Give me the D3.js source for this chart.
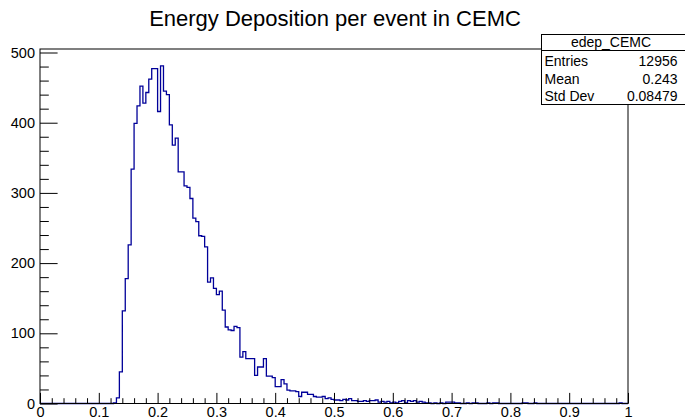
<!DOCTYPE html>
<html>
<head>
<meta charset="utf-8">
<script src="https://cdn.jsdelivr.net/npm/d3@7"></script>
<style>
  html, body { margin: 0; padding: 0; background: #ffffff; }
  svg { display: block; font-family: "Liberation Sans", Arial, Helvetica, sans-serif; }
</style>
</head>
<body>
<svg id="chart" width="685" height="420"></svg>
<script>
// ---- data ----
const title = "Energy Deposition per event in CEMC";
const histName = "edep_CEMC";
const binLow = 0, binHigh = 1, nBins = 200;
// bin contents (200 bins of width 0.005)
const counts = [
  0,0,0,0,0,0,0,0,0,0, 0,0,0,0,0,0,0,0,0,0,
  0,0,0,0,0,1,8,45,132,178,
  226,334,399,424,452,428,443,462,477,477,
  416,481,445,440,397,368,378,330,330,310,
  308,292,264,259,239,238,223,173,179,164,
  155,160,133,109,105,104,110,108,66,74,
  64,64,64,40,52,52,64,39,39,37,
  24,24,34,28,19,18,18,17,10,16,
  16,13,13,10,9,9,10,7,8,6,
  5,5,4,6,5,7,4,4,3,3,
  4,3,4,4,5,2,3,2,3,1,
  2,1,3,4,1,4,3,4,2,3,
  2,1,1,0,1,0,1,0,2,2,
  2,1,1,0,0,1,0,1,1,0,
  0,0,1,0,1,1,0,0,0,0,
  0,0,0,0,1,1,0,0,1,0,
  0,0,0,0,0,0,0,0,0,0,
  0,0,0,0,0,0,0,0,0,0,
  0,0,0,0,0,0,0,1,0,0
];
const statLabels = ["Entries", "Mean", "Std Dev"];
const statValues = ["12956", "0.243", "0.08479"];
const xTicks = [0,0.1,0.2,0.3,0.4,0.5,0.6,0.7,0.8,0.9,1];
const yTicks = [0,100,200,300,400,500];

// ---- layout ----
const svg = d3.select("#chart");
const frame = { left: 40, right: 628, top: 49, bottom: 403.5 };
const yMax = 505;

const x = d3.scaleLinear().domain([binLow, binHigh]).range([frame.left, frame.right]);
const y = d3.scaleLinear().domain([0, yMax]).range([frame.bottom, frame.top]);

const binW = (binHigh - binLow) / nBins;

// histogram outline path
const pts = [];
pts.push([x(binLow), y(0)]);
counts.forEach((c, i) => {
  const x0 = x(binLow + i * binW), x1 = x(binLow + (i + 1) * binW);
  pts.push([x0, y(c)]);
  pts.push([x1, y(c)]);
});
pts.push([x(binHigh), y(0)]);

svg.append("path")
  .attr("d", d3.line()(pts))
  .attr("fill", "none")
  .attr("stroke", "#000099")
  .attr("stroke-width", 1.3)
  .attr("stroke-linejoin", "miter");

// frame
svg.append("rect")
  .attr("x", frame.left).attr("y", frame.top)
  .attr("width", frame.right - frame.left).attr("height", frame.bottom - frame.top)
  .attr("fill", "none").attr("stroke", "#000").attr("stroke-width", 1);

// minor tick values
const xMinor = d3.range(0, 51).map(i => i * 0.02).filter(v => Math.abs(v * 10 - Math.round(v * 10)) > 1e-6);
const yMinor = d3.range(0, 26).map(i => i * 20).filter(v => v % 100 !== 0 && v <= yMax);

const fontSize = 14.5;

// X axis (ticks pointing up)
svg.append("g").attr("transform", `translate(0,${frame.bottom})`)
  .call(d3.axisBottom(x).tickValues(xTicks).tickSizeInner(-10.6).tickSizeOuter(0).tickPadding(3.5)
    .tickFormat(d => d3.format("")(+d.toFixed(1))));
svg.append("g").attr("transform", `translate(0,${frame.bottom})`)
  .call(d3.axisBottom(x).tickValues(xMinor).tickSizeInner(-5.3).tickSizeOuter(0).tickFormat(""));

// Y axis (ticks pointing right)
svg.append("g").attr("transform", `translate(${frame.left},0)`)
  .call(d3.axisLeft(y).tickValues(yTicks).tickSizeInner(-17.6).tickSizeOuter(0).tickPadding(5));
svg.append("g").attr("transform", `translate(${frame.left},0)`)
  .call(d3.axisLeft(y).tickValues(yMinor).tickSizeInner(-8.8).tickSizeOuter(0).tickFormat(""));

svg.selectAll(".domain").remove();
svg.selectAll(".tick line").attr("stroke", "#000").attr("stroke-width", 1);
svg.selectAll(".tick text")
  .attr("fill", "#000")
  .style("font-family", '"Liberation Sans", Arial, sans-serif')
  .style("font-size", fontSize + "px");

// title
svg.append("text")
  .attr("x", 335).attr("y", 26)
  .attr("text-anchor", "middle")
  .style("font-size", "22px")
  .attr("fill", "#000")
  .text(title);

// stats box
const sb = { x: 541.5, y: 34.5, w: 150, h: 70 };
const statFont = "14px";
svg.append("rect")
  .attr("x", sb.x).attr("y", sb.y).attr("width", sb.w).attr("height", sb.h)
  .attr("fill", "#fff").attr("stroke", "#000").attr("stroke-width", 1);
svg.append("line")
  .attr("x1", sb.x).attr("x2", sb.x + sb.w).attr("y1", 50.5).attr("y2", 50.5)
  .attr("stroke", "#000").attr("stroke-width", 1);
svg.append("text")
  .attr("x", 611).attr("y", 47)
  .attr("text-anchor", "middle")
  .style("font-size", statFont)
  .attr("fill", "#000")
  .text(histName);
const rowBase = [66, 84, 101];
statLabels.forEach((lab, i) => {
  svg.append("text").attr("x", 544.5).attr("y", rowBase[i])
    .style("font-size", statFont).attr("fill", "#000").text(lab);
  svg.append("text").attr("x", 677.5).attr("y", rowBase[i])
    .attr("text-anchor", "end")
    .style("font-size", statFont).attr("fill", "#000").text(statValues[i]);
});
</script>
</body>
</html>
